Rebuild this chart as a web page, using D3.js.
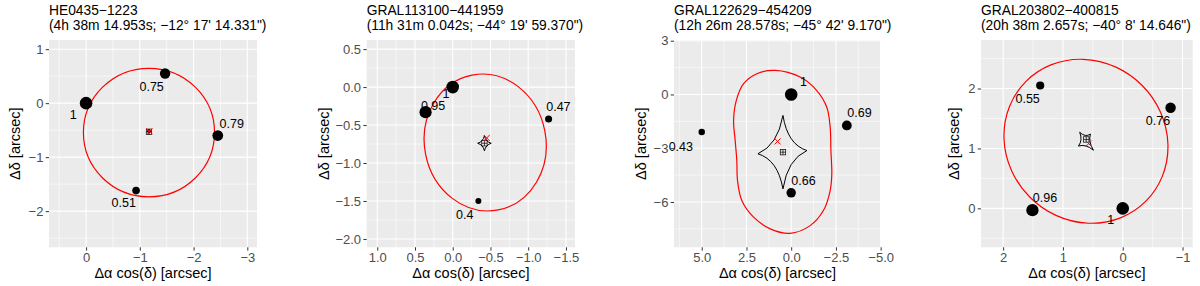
<!DOCTYPE html>
<html>
<head>
<meta charset="utf-8">
<script src="https://cdn.jsdelivr.net/npm/d3@7"></script>
<style>
body { margin: 0; background: #fff; }
text { font-family: "Liberation Sans", Arial, sans-serif; }
</style>
</head>
<body>
<svg id="svg" width="1200" height="286"></svg>
<script>
const $svg = d3.select('#svg')

// ---- data ----
const panelNames = ['HE0435−1223', 'GRAL113100−441959', 'GRAL122629−454209', 'GRAL203802−400815']
const panelCoords = [
	'(4h 38m 14.953s; −12° 17\' 14.331")',
	'(11h 31m 0.042s; −44° 19\' 59.370")',
	'(12h 26m 28.578s; −45° 42\' 9.170")',
	'(20h 38m 2.657s; −40° 8\' 14.646")',
]

const xDomains = [[0.69, -3.18], [1.14, -1.62], [6.55, -5.02], [2.37, -1.17]]
const yDomains = [[1.17, -2.67], [0.62, -2.11], [3.04, -8.53], [2.81, -0.65]]
const xTicks = [[0, -1, -2, -3], [1, 0.5, 0, -0.5, -1, -1.5], [5, 2.5, 0, -2.5, -5], [2, 1, 0, -1]]
const yTicks = [[1, 0, -1, -2], [0.5, 0, -0.5, -1, -1.5, -2], [3, 0, -3, -6], [2, 1, 0]]
const xFormats = ['d', '.1f', '.1f', 'd']
const yFormats = ['d', '.1f', 'd', 'd']

// lensed images: offsets (arcsec) and relative flux
const imgX = [[0, -1.47, -2.45, -0.93], [0, 0.36, -1.27, -0.34], [0, -3.11, 0.0, 5.0], [0, 1.51, 1.38, -0.80]]
const imgY = [[0, 0.55, -0.60, -1.62], [0, -0.33, -0.42, -1.50], [0, -1.73, -5.49, -2.10], [0, -0.03, 2.05, 1.68]]
const imgFlux = [[1, 0.75, 0.79, 0.51], [1, 0.95, 0.47, 0.4], [1, 0.69, 0.66, 0.43], [1, 0.96, 0.55, 0.76]]
const labelX = [[0.24, -1.22, -2.71, -0.70], [0.09, 0.26, -1.40, -0.16], [-0.69, -3.82, -0.69, 6.17], [0.20, 1.30, 1.59, -0.59]]
const labelY = [[-0.22, 0.30, -0.37, -1.84], [-0.09, -0.25, -0.26, -1.68], [0.69, -1.04, -4.80, -2.89], [-0.18, 0.18, 1.83, 1.46]]

// critical curves: ellipses (centre, semi-axes, tilt in degrees) for panels 1, 2, 4
const critEllipse = [
	{ cx: -1.17, cy: -0.545, a: 1.22, b: 1.19, angle: 0 },
	{ cx: -0.43, cy: -0.73, a: 0.91, b: 0.80, angle: 79 },
	null,
	{ cx: 0.615, cy: 1.12, a: 1.417, b: 1.322, angle: 45 },
]
// panel 3 critical curve traced as points
const crit3X = [0.89, -0.50, -1.43, -1.99, -2.18, -2.22, -2.27, -2.18, -1.80, -1.06, 0.06, 1.17, 2.10, 2.76, 3.00, 3.04, 3.13, 3.22, 3.07, 2.66, 1.92]
const crit3Y = [1.34, 0.97, 0.22, -0.71, -1.83, -3.13, -4.43, -5.36, -6.48, -7.32, -7.75, -7.50, -6.85, -5.92, -4.80, -3.69, -2.57, -1.45, -0.34, 0.60, 1.16]

// caustic cusps (4 per panel, in order round the curve)
const cuspX = [[-1.17, -1.21, -1.17, -1.13], [-0.42, -0.51, -0.42, -0.33], [0.46, -0.88, 0.46, 1.86], [0.72, 0.54, 0.49, 0.74]]
const cuspY = [[-0.48, -0.52, -0.56, -0.52], [-0.64, -0.74, -0.84, -0.74], [-1.17, -3.13, -5.27, -3.31], [1.27, 1.24, 0.97, 1.04]]

// source (red x) and lens galaxy (boxed plus)
const srcX = [-1.18, -0.45, 0.76, 0.57]
const srcY = [-0.52, -0.67, -2.62, 1.08]
const lensX = [-1.17, -0.42, 0.46, 0.61]
const lensY = [-0.53, -0.74, -3.22, 1.15]

// ---- layout ----
const panelLeft = [49, 366.7, 674, 981]
const panelRight = [257, 575, 881, 1192.7]
const yTitleX = [20, 329, 646, 959]
const panelTop = 40
const panelBottom = 247.3

const rScale = d3.scaleRadial().domain([0.4, 1]).range([3, 6.3])

const minorOf = (ticks, domain) => {
	const step = Math.abs(ticks[1] - ticks[0])
	const lo = Math.min(...domain), hi = Math.max(...domain)
	const out = []
	ticks.forEach(t => {
		[t - step / 2, t + step / 2].forEach(m => {
			if (m > lo && m < hi && !out.some(o => Math.abs(o - m) < 1e-9)) out.push(m)
		})
	})
	return out
}

panelNames.forEach((name, i) => {
	const x = d3.scaleLinear().domain(xDomains[i]).range([panelLeft[i], panelRight[i]])
	const y = d3.scaleLinear().domain(yDomains[i]).range([panelTop, panelBottom])
	const g = $svg.append('g')

	g.append('rect')
		.attr('x', panelLeft[i]).attr('y', panelTop)
		.attr('width', panelRight[i] - panelLeft[i]).attr('height', panelBottom - panelTop)
		.attr('fill', '#EBEBEB')

	// grid
	const inX = v => v >= Math.min(...xDomains[i]) && v <= Math.max(...xDomains[i])
	const inY = v => v >= Math.min(...yDomains[i]) && v <= Math.max(...yDomains[i])
	const gridX = (vals, w) => vals.filter(inX).forEach(v => {
		g.append('line').attr('x1', x(v)).attr('x2', x(v)).attr('y1', panelTop).attr('y2', panelBottom)
			.attr('stroke', '#fff').attr('stroke-width', w)
	})
	const gridY = (vals, w) => vals.filter(inY).forEach(v => {
		g.append('line').attr('y1', y(v)).attr('y2', y(v)).attr('x1', panelLeft[i]).attr('x2', panelRight[i])
			.attr('stroke', '#fff').attr('stroke-width', w)
	})
	gridX(minorOf(xTicks[i], xDomains[i]), 0.55)
	gridY(minorOf(yTicks[i], yDomains[i]), 0.55)
	gridX(xTicks[i], 1.1)
	gridY(yTicks[i], 1.1)

	// critical curve
	const ell = critEllipse[i]
	if (ell) {
		g.append('ellipse')
			.attr('cx', x(ell.cx)).attr('cy', y(ell.cy))
			.attr('rx', Math.abs(x(ell.a) - x(0))).attr('ry', Math.abs(y(ell.b) - y(0)))
			.attr('transform', `rotate(${ell.angle} ${x(ell.cx)} ${y(ell.cy)})`)
			.attr('fill', 'none').attr('stroke', '#FF0000').attr('stroke-width', 1.2)
	} else {
		g.append('path')
			.attr('d', d3.line().x(d => x(d[0])).y(d => y(d[1])).curve(d3.curveCatmullRomClosed)(d3.zip(crit3X, crit3Y)))
			.attr('fill', 'none').attr('stroke', '#FF0000').attr('stroke-width', 1.2)
	}

	// caustic: concave sides between cusps
	const cx = cuspX[i].map(v => x(v)), cy = cuspY[i].map(v => y(v))
	const mx = d3.mean(cx), my = d3.mean(cy)
	const p = d3.path()
	p.moveTo(cx[0], cy[0])
	for (let k = 0; k < 4; k++) {
		const n = (k + 1) % 4
		const qx = mx + 0.2 * ((cx[k] - mx) + (cx[n] - mx))
		const qy = my + 0.2 * ((cy[k] - my) + (cy[n] - my))
		p.quadraticCurveTo(qx, qy, cx[n], cy[n])
	}
	p.closePath()
	g.append('path').attr('d', p.toString()).attr('fill', 'none').attr('stroke', '#000').attr('stroke-width', 1)

	// lens galaxy
	const lx = x(lensX[i]), ly = y(lensY[i]), s = 2.7
	g.append('rect').attr('x', lx - s).attr('y', ly - s).attr('width', 2 * s).attr('height', 2 * s)
		.attr('fill', 'none').attr('stroke', '#000').attr('stroke-width', 0.7)
	g.append('path').attr('d', `M${lx - s},${ly}H${lx + s}M${lx},${ly - s}V${ly + s}`)
		.attr('stroke', '#000').attr('stroke-width', 0.7)

	// source
	const sx = x(srcX[i]), sy = y(srcY[i]), t = 3
	g.append('path').attr('d', `M${sx - t},${sy - t}L${sx + t},${sy + t}M${sx - t},${sy + t}L${sx + t},${sy - t}`)
		.attr('stroke', '#FF0000').attr('stroke-width', 1)

	// images
	g.selectAll('circle.img').data(d3.range(imgX[i].length)).join('circle')
		.attr('class', 'img')
		.attr('cx', k => x(imgX[i][k])).attr('cy', k => y(imgY[i][k]))
		.attr('r', k => rScale(imgFlux[i][k]))
		.attr('fill', '#000')

	g.selectAll('text.lab').data(d3.range(imgX[i].length)).join('text')
		.attr('class', 'lab')
		.attr('x', k => x(labelX[i][k])).attr('y', k => y(labelY[i][k]))
		.attr('dy', '0.35em').attr('text-anchor', 'middle')
		.attr('font-size', 12.5).attr('fill', '#000')
		.text(k => String(imgFlux[i][k]))

	// axes
	const xAxis = g.append('g').attr('transform', `translate(0,${panelBottom})`)
		.call(d3.axisBottom(x).tickValues(xTicks[i]).tickFormat(d3.format(xFormats[i])).tickSize(3.3).tickPadding(2.3))
	const yAxis = g.append('g').attr('transform', `translate(${panelLeft[i]},0)`)
		.call(d3.axisLeft(y).tickValues(yTicks[i]).tickFormat(d3.format(yFormats[i])).tickSize(3.3).tickPadding(2.3))
	;[xAxis, yAxis].forEach(a => {
		a.select('.domain').remove()
		a.selectAll('.tick line').attr('stroke', '#333333').attr('stroke-width', 1)
		a.selectAll('.tick text').attr('fill', '#4D4D4D').attr('font-size', 13)
			.attr('font-family', '"Liberation Sans", Arial, sans-serif')
	})

	// titles
	g.append('text').attr('x', panelLeft[i]).attr('y', 15).attr('font-size', 13.8).text(name)
	g.append('text').attr('x', panelLeft[i]).attr('y', 29.5).attr('font-size', 13.8).text(panelCoords[i])

	g.append('text')
		.attr('x', (panelLeft[i] + panelRight[i]) / 2).attr('y', 278)
		.attr('text-anchor', 'middle').attr('font-size', 14.5)
		.text('Δα cos(δ) [arcsec]')

	g.append('text')
		.attr('transform', `translate(${yTitleX[i]},${(panelTop + panelBottom) / 2}) rotate(-90)`)
		.attr('text-anchor', 'middle').attr('font-size', 14.5)
		.text('Δδ [arcsec]')
})
</script>
</body>
</html>
